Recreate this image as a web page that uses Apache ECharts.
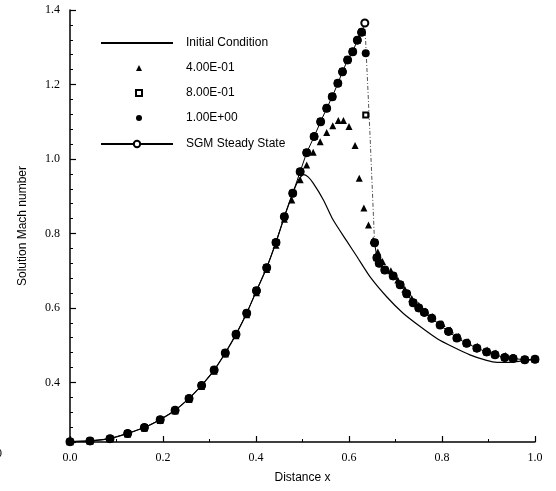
<!DOCTYPE html>
<html><head><meta charset="utf-8">
<script src="https://cdn.jsdelivr.net/npm/echarts@6/dist/echarts.min.js"></script>
<style>html,body{margin:0;padding:0;background:#fff}#c{width:556px;height:491px}</style>
</head><body><div id="c"></div>
<script>
// ---- data ----
const xTicks = ['0.0','0.2','0.4','0.6','0.8','1.0'];
const yTicks = ['0.4','0.6','0.8','1.0','1.2','1.4'];

const initX = [0,0.043,0.086,0.124,0.160,0.194,0.226,0.256,0.283,0.310,0.334,0.357,0.380,0.401,0.423,0.443,0.461,0.479,0.492,0.502,0.512,0.523,0.545,0.566,0.595,0.617,0.645,0.681,0.717,0.753,0.789,0.824,0.860,0.896,0.918,0.946,0.975,1.0];
const initY = [0.241,0.243,0.249,0.263,0.279,0.300,0.325,0.357,0.392,0.433,0.479,0.529,0.586,0.646,0.708,0.776,0.845,0.908,0.945,0.958,0.952,0.935,0.890,0.836,0.780,0.738,0.684,0.630,0.585,0.550,0.518,0.495,0.474,0.459,0.454,0.454,0.458,0.462];

const sgmRiseX = [0,0.043,0.086,0.124,0.160,0.194,0.226,0.256,0.283,0.310,0.334,0.357,0.380,0.401,0.423,0.443,0.461,0.479,0.495,0.509,0.525,0.539,0.552,0.564,0.576,0.586,0.597,0.608,0.618,0.627,0.634];
const sgmRiseY = [0.241,0.243,0.249,0.263,0.279,0.300,0.325,0.357,0.392,0.433,0.479,0.529,0.586,0.646,0.708,0.776,0.845,0.908,0.966,1.017,1.060,1.100,1.136,1.167,1.203,1.234,1.266,1.288,1.319,1.340,1.365];
const sgmFallX = [0.655,0.660,0.665,0.677,0.695,0.710,0.724,0.738,0.750,0.762,0.778,0.796,0.814,0.832,0.853,0.875,0.896,0.914,0.935,0.953,0.978,1.0];
const sgmFallY = [0.775,0.735,0.720,0.702,0.686,0.662,0.638,0.614,0.600,0.588,0.572,0.554,0.537,0.519,0.505,0.492,0.482,0.474,0.467,0.464,0.461,0.462];
const shockX = [0.634,0.645,0.655];
const shockY = [1.365,1.07,0.775];

const t04X = [0,0.043,0.086,0.124,0.160,0.194,0.226,0.256,0.283,0.310,0.334,0.357,0.380,0.401,0.423,0.443,0.461,0.477,0.495,0.509,0.523,0.538,0.552,0.565,0.577,0.588,0.600,0.613,0.622,0.632,0.642,0.652,0.662,0.672,0.690,0.705,0.720,0.735,0.750,0.765,0.780,0.800,0.818,0.836,0.856,0.876,0.897,0.916,0.936,0.955,0.978,1.0];
const t04Y = [0.241,0.243,0.249,0.261,0.277,0.298,0.323,0.354,0.389,0.430,0.476,0.525,0.582,0.641,0.703,0.768,0.838,0.890,0.944,0.984,1.018,1.046,1.071,1.089,1.103,1.103,1.087,1.036,0.948,0.868,0.823,0.782,0.750,0.725,0.700,0.675,0.650,0.625,0.607,0.592,0.577,0.558,0.541,0.524,0.510,0.497,0.487,0.479,0.472,0.467,0.463,0.463];

// 8.00E-01 and 1.00E+00 coincide with the steady state except at the shock
const t08ShockX = [0.636];
const t08ShockY = [1.118];
const t10ShockX = [0.636];
const t10ShockY = [1.284];

function pts(xs, ys){ return xs.map((x,i)=>[x, ys[i]]); }
const nRise = sgmRiseX.length - 1; // unsteady runs stop short of the SGM peak

const sgmData = pts(sgmRiseX, sgmRiseY).concat([[null,null]], pts(sgmFallX, sgmFallY));
const t08Data = pts(sgmRiseX.slice(0,nRise), sgmRiseY.slice(0,nRise)).concat(pts(t08ShockX,t08ShockY), pts(sgmFallX, sgmFallY));
const t10Data = pts(sgmRiseX.slice(0,nRise), sgmRiseY.slice(0,nRise)).concat(pts(t10ShockX,t10ShockY), pts(sgmFallX, sgmFallY));

const serif = 'Liberation Serif';
const sans = 'Liberation Sans';
const legText = {fontFamily:sans,fontSize:12,color:'#000'};

const chart = echarts.init(document.getElementById('c'), null, {renderer:'canvas'});
chart.setOption({
  animation:false,
  backgroundColor:'#fff',
  grid:{left:70,right:21,top:10,bottom:49,containLabel:false},
  legend:[
    {orient:'vertical', left:95, top:32, itemWidth:72, itemHeight:8, itemGap:13,
      textStyle:Object.assign({padding:[0,0,0,8]},legText),
      data:[{name:'Initial Condition', itemStyle:{opacity:0}}]},
    {orient:'vertical', left:130, top:57, itemWidth:6, itemHeight:6, itemGap:13,
      textStyle:Object.assign({padding:[0,0,0,39]},legText),
      data:['4.00E-01','8.00E-01','1.00E+00']},
    {orient:'vertical', left:95, top:133, itemWidth:72, itemHeight:8, itemGap:13,
      textStyle:Object.assign({padding:[0,0,0,8]},legText),
      data:['SGM Steady State']}
  ],
  xAxis:{
    type:'value', min:0, max:1, interval:0.2,
    name:'Distance x', nameLocation:'middle', nameGap:30,
    nameTextStyle:{fontFamily:sans,fontSize:12,color:'#000'},
    axisLine:{show:true,lineStyle:{color:'#000',width:1.5}},
    axisTick:{show:true,inside:true,length:6,lineStyle:{color:'#000',width:1.2}},
    minorTick:{show:true,splitNumber:2,length:3,lineStyle:{color:'#000'}},
    splitLine:{show:false},
    axisLabel:{fontFamily:serif,fontSize:12,color:'#000',margin:10,
      formatter:(v)=>{const i=Math.round(v/0.2);return Math.abs(v-i*0.2)<1e-6?xTicks[i]:'';}}
  },
  yAxis:{
    type:'value', min:0.24, max:1.4, splitNumber:6,
    name:'Solution Mach number', nameLocation:'middle', nameGap:41, nameRotate:90,
    nameTextStyle:{fontFamily:sans,fontSize:12,color:'#000'},
    axisLine:{show:true,lineStyle:{color:'#000',width:1.5}},
    axisTick:{show:true,inside:true,length:6,lineStyle:{color:'#000',width:1.2}},
    minorTick:{show:true,splitNumber:5,length:3,lineStyle:{color:'#000'}},
    splitLine:{show:false},
    axisLabel:{fontFamily:serif,fontSize:12,color:'#000',margin:10,showMinLabel:false,
      formatter:(v)=>{const i=Math.round((v-0.4)/0.2);return (i>=0&&Math.abs(v-(0.4+i*0.2))<1e-6)?yTicks[i]:'';}}
  },
  graphic:[{type:'text',left:-4,top:448,style:{text:'0',font:'12px "Liberation Serif"',fill:'#000'}}],
  series:[
    {name:'Initial Condition',type:'line',data:pts(initX,initY),symbol:'none',smooth:0.2,
      lineStyle:{color:'#000',width:1.2},itemStyle:{color:'#000'},z:2},
    {name:'4.00E-01',type:'scatter',data:pts(t04X,t04Y),symbol:'triangle',symbolSize:7,
      itemStyle:{color:'#000',opacity:1},z:3},
    {name:'8.00E-01',type:'scatter',data:t08Data,symbol:'emptyRect',symbolSize:5,
      itemStyle:{color:'#000',borderColor:'#000',borderWidth:1.2,opacity:1},z:4},
    {name:'SGM Steady State',type:'line',data:sgmData,symbol:'emptyCircle',symbolSize:7,
      connectNulls:false,lineStyle:{color:'#000',width:1},itemStyle:{color:'#000',borderColor:'#000',borderWidth:1.3},z:5},
    {name:'1.00E+00',type:'scatter',data:t10Data,symbol:'circle',symbolSize:8,
      itemStyle:{color:'#000',opacity:1},z:6},
    {name:'shock',type:'line',data:pts(shockX,shockY),symbol:'none',
      lineStyle:{color:'#555',width:1,type:[4,2,1,2]},z:1}
  ]
});
</script></body></html>
